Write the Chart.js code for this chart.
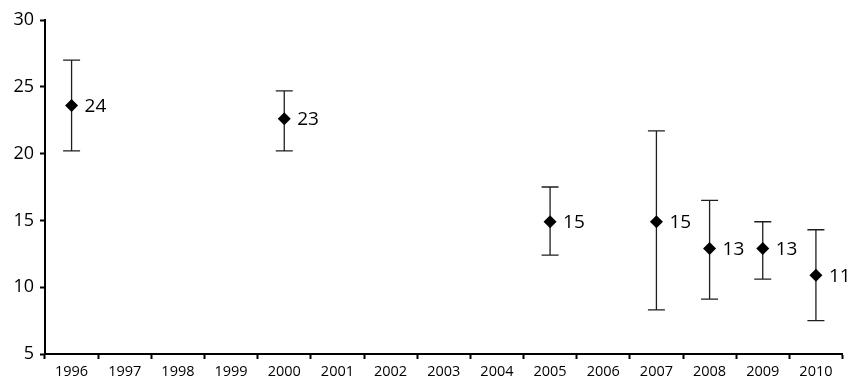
<!DOCTYPE html>
<html>
<head>
<meta charset="utf-8">
<style>
  html, body { margin: 0; padding: 0; background: #ffffff; }
  #wrap { width: 849px; height: 379px; }
</style>
<script src="https://cdn.jsdelivr.net/npm/chart.js@4/dist/chart.umd.min.js"></script>
</head>
<body>
<div id="wrap"><canvas id="chart" width="849" height="379"></canvas></div>
<script>
// Survey years on the category axis
const years = ['1996', '1997', '1998', '1999', '2000', '2001', '2002', '2003',
               '2004', '2005', '2006', '2007', '2008', '2009', '2010'];

// Point estimates (null = no survey that year)
const estimates = [23.6, null, null, null, 22.6, null, null, null,
                   null, 14.9, null, 14.9, 12.9, 12.9, 10.9];

// Upper and lower bounds of the interval around each estimate
const upperBounds = [27.0, null, null, null, 24.7, null, null, null,
                     null, 17.5, null, 21.7, 16.5, 14.9, 14.3];
const lowerBounds = [20.2, null, null, null, 20.2, null, null, null,
                     null, 12.4, null, 8.3, 9.1, 10.6, 7.5];

// Value axis ticks
const yTicks = [5, 10, 15, 20, 25, 30];

const FONT = "'Open Sans', 'Noto Sans', sans-serif";

// Vertical interval whiskers with caps, drawn beneath the markers
const errorBarPlugin = {
  id: 'errorBars',
  beforeDatasetsDraw(chart) {
    const ctx = chart.ctx;
    const xs = chart.scales.x;
    const ys = chart.scales.y;
    ctx.save();
    ctx.strokeStyle = '#1e1e1e';
    ctx.lineWidth = 1.3;
    const cap = 8.5;
    years.forEach((yr, i) => {
      if (estimates[i] === null) return;
      const x = xs.getPixelForValue(i);
      const yTop = ys.getPixelForValue(upperBounds[i]);
      const yBot = ys.getPixelForValue(lowerBounds[i]);
      ctx.beginPath();
      ctx.moveTo(x, yTop);
      ctx.lineTo(x, yBot);
      ctx.moveTo(x - cap, yTop);
      ctx.lineTo(x + cap, yTop);
      ctx.moveTo(x - cap, yBot);
      ctx.lineTo(x + cap, yBot);
      ctx.stroke();
    });
    ctx.restore();
  }
};

// Rounded value printed to the right of each marker
const valueLabelPlugin = {
  id: 'valueLabels',
  afterDatasetsDraw(chart) {
    const ctx = chart.ctx;
    const meta = chart.getDatasetMeta(0);
    ctx.save();
    ctx.fillStyle = '#000000';
    ctx.font = '19px ' + FONT;
    ctx.textAlign = 'left';
    ctx.textBaseline = 'middle';
    meta.data.forEach((pt, i) => {
      if (estimates[i] === null) return;
      ctx.fillText(String(Math.round(estimates[i])), pt.x + 13, pt.y + 1);
    });
    ctx.restore();
  }
};

new Chart(document.getElementById('chart'), {
  type: 'line',
  data: {
    labels: years,
    datasets: [{
      data: estimates,
      showLine: false,
      pointStyle: 'rectRot',
      pointRadius: 6.5,
      pointHoverRadius: 6.5,
      backgroundColor: '#000000',
      borderColor: '#000000',
      borderWidth: 0
    }]
  },
  options: {
    responsive: false,
    animation: false,
    devicePixelRatio: 1,
    layout: { padding: { top: 20, right: 1, left: 0, bottom: 0 } },
    plugins: {
      legend: { display: false },
      tooltip: { enabled: false }
    },
    scales: {
      x: {
        type: 'category',
        offset: true,
        afterFit(scale) { scale.height = 25; },
        grid: {
          offset: true,
          drawOnChartArea: false,
          drawTicks: true,
          tickLength: 5,
          tickWidth: 2,
          tickColor: '#000000'
        },
        border: { display: true, color: '#000000', width: 2 },
        ticks: {
          color: '#000000',
          font: { family: FONT, size: 14.5 },
          padding: 4,
          maxRotation: 0,
          autoSkip: false
        }
      },
      y: {
        min: yTicks[0],
        max: yTicks[yTicks.length - 1],
        afterFit(scale) { scale.width = 45; },
        afterBuildTicks(scale) {
          scale.ticks = yTicks.map(v => ({ value: v }));
        },
        grid: {
          drawOnChartArea: false,
          drawTicks: true,
          tickLength: 5,
          tickWidth: 2,
          tickColor: '#000000'
        },
        border: { display: true, color: '#000000', width: 2 },
        ticks: {
          color: '#000000',
          font: { family: FONT, size: 18 },
          padding: 6
        }
      }
    }
  },
  plugins: [errorBarPlugin, valueLabelPlugin]
});
</script>
</body>
</html>
